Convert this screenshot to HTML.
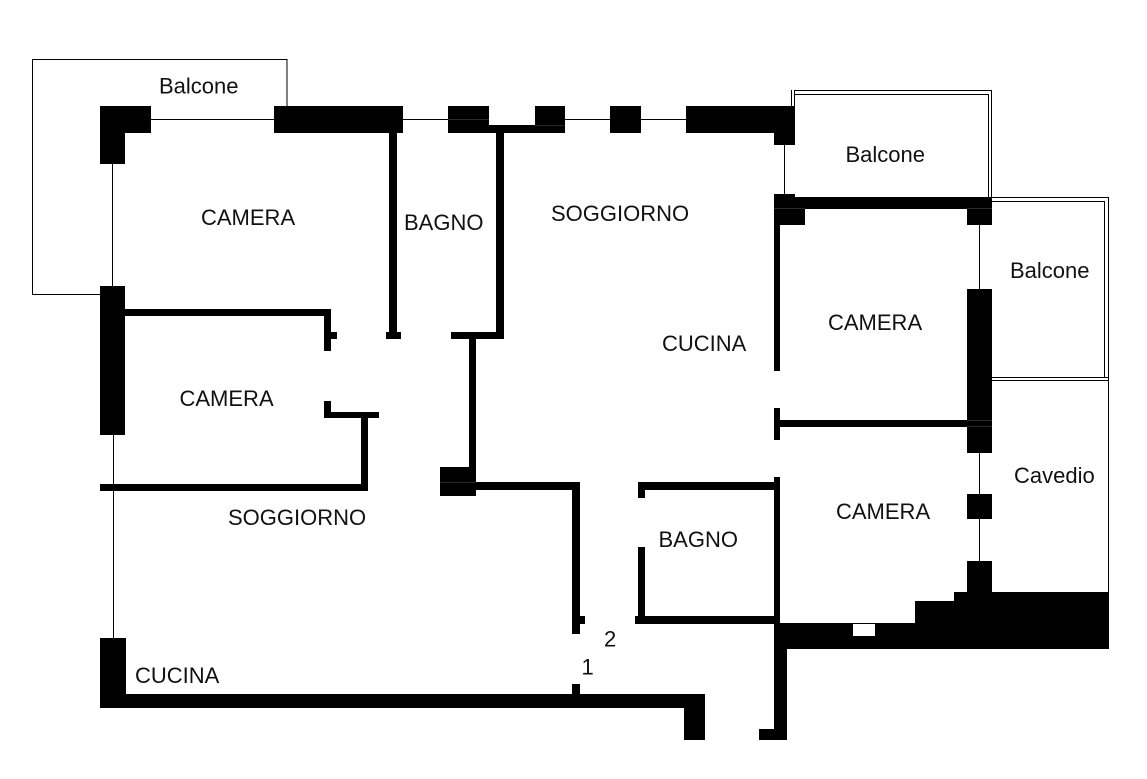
<!DOCTYPE html>
<html><head><meta charset="utf-8"><style>
html,body{margin:0;padding:0;background:#fff;width:1147px;height:779px;overflow:hidden}
svg{display:block}
text{font-family:"Liberation Sans",Arial,sans-serif;font-size:22px;fill:#111}
</style></head><body>
<svg width="1147" height="779" viewBox="0 0 1147 779" xmlns="http://www.w3.org/2000/svg">
<rect width="1147" height="779" fill="#fff"/>
<g fill="none" stroke="#000" stroke-width="1" shape-rendering="crispEdges">
<path d="M287 106V59.5H32.5V294.5H100"/>
<path d="M151 119.5H274M403 119.5H448M565 119.5H610M641 119.5H686"/>
<path d="M112.5 164V286M113.5 435V638"/>
<path d="M784.5 145V194"/>
<path d="M979.5 225V289M979.5 453V494M979.5 519V561"/>
<path d="M791.5 106V90M794.5 106V90.5H991.5V197M794.5 94.5H988.5V197"/>
<path d="M991 197.5H1108.5V592M991 201.5H1104.5V377.5M991 377.5H1108.5M991 380.5H1108.5"/>
</g>
<g fill="#000" shape-rendering="crispEdges">
<rect x="100" y="106" width="51" height="27"/>
<rect x="100" y="106" width="25" height="58"/>
<rect x="274" y="106" width="129" height="27"/>
<rect x="389" y="133" width="8" height="206"/>
<rect x="386" y="332" width="15" height="7"/>
<rect x="448" y="106" width="41" height="27"/>
<rect x="489" y="125" width="46" height="8"/>
<rect x="535" y="106" width="30" height="27"/>
<rect x="496" y="133" width="8" height="206"/>
<rect x="610" y="106" width="31" height="27"/>
<rect x="686" y="106" width="109" height="27"/>
<rect x="774" y="133" width="21" height="12"/>
<rect x="774" y="194" width="21" height="15"/>
<rect x="774" y="197" width="218" height="12"/>
<rect x="774" y="209" width="31" height="16"/>
<rect x="967" y="209" width="25" height="16"/>
<rect x="774" y="225" width="6" height="146"/>
<rect x="967" y="289" width="25" height="164"/>
<rect x="780" y="420" width="187" height="7"/>
<rect x="774" y="408" width="6" height="32"/>
<rect x="967" y="494" width="25" height="25"/>
<rect x="967" y="561" width="25" height="31"/>
<rect x="954" y="592" width="155" height="57"/>
<rect x="915" y="601" width="40" height="48"/>
<rect x="774" y="623" width="142" height="26"/>
<rect x="774" y="477" width="6" height="147"/>
<rect x="774" y="649" width="13" height="91"/>
<rect x="759" y="729" width="28" height="11"/>
<rect x="638" y="482" width="136" height="8"/>
<rect x="638" y="490" width="7" height="8"/>
<rect x="638" y="547" width="7" height="70"/>
<rect x="635" y="616" width="141" height="8"/>
<rect x="476" y="482" width="104" height="8"/>
<rect x="572" y="490" width="8" height="144"/>
<rect x="580" y="616" width="5" height="8"/>
<rect x="572" y="684" width="8" height="10"/>
<rect x="100" y="694" width="605" height="14"/>
<rect x="684" y="708" width="21" height="32"/>
<rect x="100" y="638" width="26" height="56"/>
<rect x="100" y="286" width="25" height="149"/>
<rect x="125" y="309" width="206" height="7"/>
<rect x="324" y="309" width="7" height="42"/>
<rect x="331" y="332" width="6" height="7"/>
<rect x="451" y="332" width="53" height="7"/>
<rect x="469" y="339" width="7" height="128"/>
<rect x="440" y="467" width="36" height="29"/>
<rect x="324" y="401" width="7" height="17"/>
<rect x="324" y="412" width="55" height="6"/>
<rect x="361" y="418" width="7" height="73"/>
<rect x="100" y="484" width="268" height="7"/>
</g>
<rect x="853" y="624" width="22" height="12" fill="#fff" shape-rendering="crispEdges"/>
<g fill="none" stroke="#2a2a2a" stroke-width="1" shape-rendering="crispEdges">
<path d="M448 119.5H489M535 125.5H565M774 208.5H805M967 208.5H992M967 420.5H992M967 426.5H992M440 482.5H476"/>
</g>
<g>
<text x="159" y="93.5">Balcone</text>
<text x="201" y="225">CAMERA</text>
<text x="404" y="230">BAGNO</text>
<text x="551" y="221">SOGGIORNO</text>
<text x="662" y="351">CUCINA</text>
<text x="845.5" y="162">Balcone</text>
<text x="1010" y="278">Balcone</text>
<text x="828" y="330">CAMERA</text>
<text x="179.5" y="406">CAMERA</text>
<text x="228" y="525">SOGGIORNO</text>
<text x="1014" y="483">Cavedio</text>
<text x="836" y="519">CAMERA</text>
<text x="658.5" y="547">BAGNO</text>
<text x="604" y="646.5">2</text>
<text x="581.5" y="674.5">1</text>
<text x="135" y="683">CUCINA</text>
</g>
</svg>
</body></html>
